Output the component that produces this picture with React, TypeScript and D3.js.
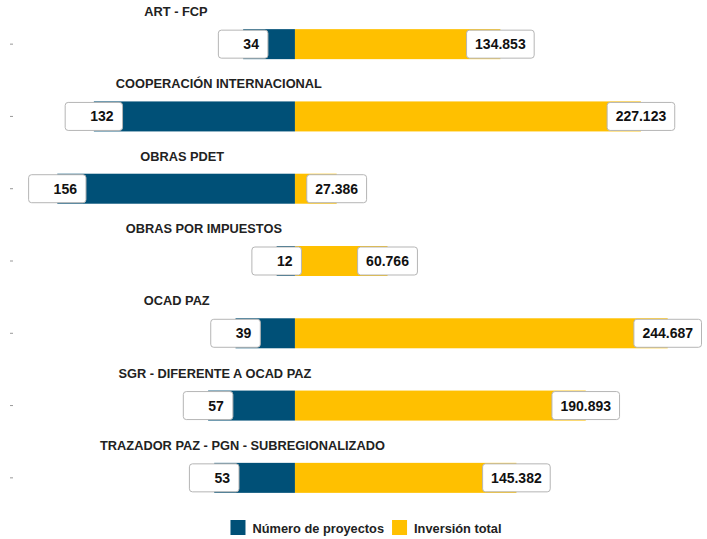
import React, { useEffect, useRef } from 'react';
import * as d3 from 'd3';

const categories = [
  'ART - FCP',
  'COOPERACIÓN INTERNACIONAL',
  'OBRAS PDET',
  'OBRAS POR IMPUESTOS',
  'OCAD PAZ',
  'SGR - DIFERENTE A OCAD PAZ',
  'TRAZADOR PAZ - PGN - SUBREGIONALIZADO',
];
const proyectos = [34, 132, 156, 12, 39, 57, 53];
const inversion = [134.853, 227.123, 27.386, 60.766, 244.687, 190.893, 145.382];
const legendLabels = ['Número de proyectos', 'Inversión total'];

const BLUE = '#005077';
const YELLOW = '#FFC000';
const FONT = '"Liberation Sans", Arial, sans-serif';

export default function App() {
  const chartRef = useRef<SVGSVGElement>(null);

  useEffect(() => {
    const width = 707;
    const height = 539;
    const svg = d3.select(chartRef.current);
    svg.selectAll('*').remove();
    svg.attr('width', width).attr('height', height);

    const x = d3.scaleLinear()
      .domain([-d3.max(proyectos)!, d3.max(inversion)!])
      .range([57.3, 667.7]);

    const y = d3.scaleBand()
      .domain(categories)
      .range([8, 514])
      .paddingInner(0)
      .paddingOuter(0);

    const barH = 30;
    const boxH = 28;
    const center = (c: string) => y(c)! + y.bandwidth() / 2;

    const rows = categories.map((c, i) => ({ c, p: proyectos[i], v: inversion[i] }));

    const g = svg.append('g');

    // y ticks (no labels)
    g.selectAll('.tick')
      .data(rows)
      .enter()
      .append('line')
      .attr('x1', 10)
      .attr('x2', 13)
      .attr('y1', d => center(d.c))
      .attr('y2', d => center(d.c))
      .attr('stroke', '#999')
      .attr('stroke-width', 1);

    // bars
    g.selectAll('.bar-p')
      .data(rows)
      .enter()
      .append('rect')
      .attr('x', d => x(-d.p))
      .attr('y', d => center(d.c) - barH / 2)
      .attr('width', d => x(0) - x(-d.p))
      .attr('height', barH)
      .attr('fill', BLUE);

    g.selectAll('.bar-v')
      .data(rows)
      .enter()
      .append('rect')
      .attr('x', x(0))
      .attr('y', d => center(d.c) - barH / 2)
      .attr('width', d => x(d.v) - x(0))
      .attr('height', barH)
      .attr('fill', YELLOW);

    // facet titles
    rows.forEach(d => {
      const t = g.append('text')
        .attr('y', center(d.c) - 28)
        .attr('font-family', FONT)
        .attr('font-weight', 'bold')
        .attr('font-size', 12.8)
        .attr('fill', '#222')
        .text(d.c);
      const w = (t.node() as SVGTextElement).getComputedTextLength();
      t.attr('x', 157 - 0.2 * w);
    });

    // value labels
    const fmt = (v: number) => v.toFixed(3);
    rows.forEach(d => {
      const cy = center(d.c);
      const lt = g.append('text')
        .attr('font-family', FONT)
        .attr('font-weight', 'bold')
        .attr('font-size', 14)
        .attr('fill', '#111')
        .attr('text-anchor', 'end')
        .attr('y', cy + 5)
        .text(String(d.p));
      const lw = (lt.node() as SVGTextElement).getComputedTextLength() + 34;
      const lx = x(-d.p) - lw / 2;
      g.insert('rect', () => lt.node())
        .attr('x', lx)
        .attr('y', cy - boxH / 2)
        .attr('width', lw)
        .attr('height', boxH)
        .attr('rx', 3)
        .attr('fill', 'white')
        .attr('stroke', '#b5b5b5');
      lt.attr('x', lx + lw - 9);

      const rt = g.append('text')
        .attr('font-family', FONT)
        .attr('font-weight', 'bold')
        .attr('font-size', 14)
        .attr('fill', '#111')
        .attr('text-anchor', 'middle')
        .attr('x', x(d.v))
        .attr('y', cy + 5)
        .text(fmt(d.v));
      const rw = (rt.node() as SVGTextElement).getComputedTextLength() + 17;
      g.insert('rect', () => rt.node())
        .attr('x', x(d.v) - rw / 2)
        .attr('y', cy - boxH / 2)
        .attr('width', rw)
        .attr('height', boxH)
        .attr('rx', 3)
        .attr('fill', 'white')
        .attr('stroke', '#b5b5b5');
    });

    // legend
    const lg = svg.append('g');
    let cx = 0;
    legendLabels.forEach((lab, i) => {
      lg.append('rect')
        .attr('x', cx)
        .attr('y', 520)
        .attr('width', 15)
        .attr('height', 15)
        .attr('fill', i === 0 ? BLUE : YELLOW);
      const t = lg.append('text')
        .attr('x', cx + 22)
        .attr('y', 532.5)
        .attr('font-family', FONT)
        .attr('font-weight', 'bold')
        .attr('font-size', 12.8)
        .attr('fill', '#222')
        .text(lab);
      cx += 22 + (t.node() as SVGTextElement).getComputedTextLength() + 8;
    });
    const total = cx - 8;
    lg.attr('transform', `translate(${366 - total / 2}, 0)`);
  }, []);

  return <svg ref={chartRef} style={{ position: 'absolute', left: 0, top: 0 }} />;
}
